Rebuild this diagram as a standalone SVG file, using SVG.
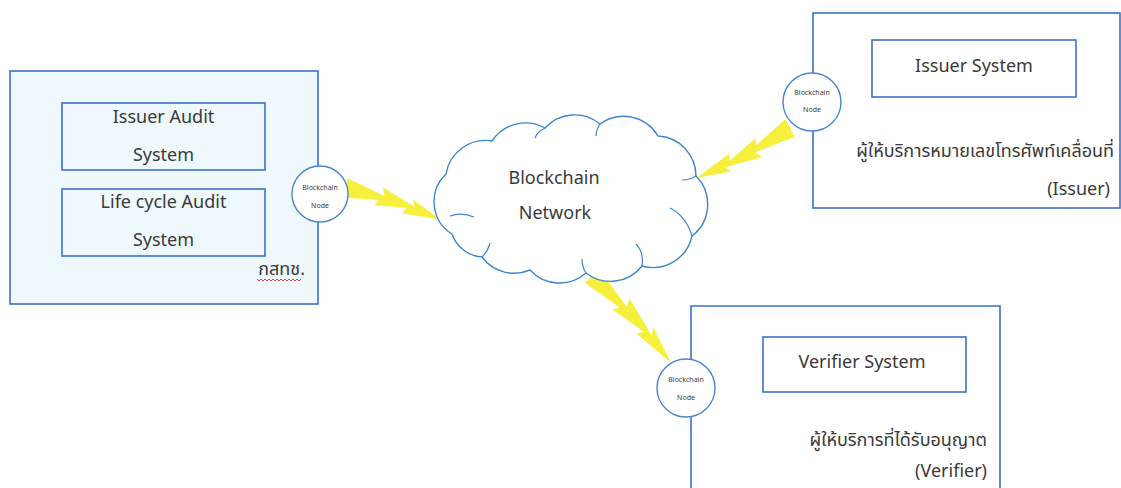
<svg xmlns="http://www.w3.org/2000/svg" xmlns:xlink="http://www.w3.org/1999/xlink" width="1121" height="488" viewBox="0 0 1121 488">
<style>
  .frame{fill:#ffffff;stroke:#3a72c8;stroke-width:1.6}
  .inner{fill:none;stroke:#3a72c8;stroke-width:1.6}
  .node{fill:#ffffff;stroke:#4a86cf;stroke-width:1.4}
  .t{font-family:"Noto Sans","Liberation Sans",sans-serif;fill:#3a3a3a;font-size:18px}
  .th{font-family:"Noto Sans Thai","Noto Sans","Liberation Sans",sans-serif;fill:#3a3a3a;font-size:18px}
  .n{font-family:"Noto Sans","Liberation Sans",sans-serif;fill:#3a3a3a;font-size:7px;text-anchor:middle}
  .bolt{fill:#f6ef3c}
</style>
<defs>
  <polygon id="bolt" class="bolt" points="0,-9 40,-4 36,-11 72,-3 68,-9 100,1 62,6 65,0 33,7 36,1 0,9"/>
</defs>
<rect width="1121" height="488" fill="#ffffff"/>

<g id="connectors">
  <use xlink:href="#bolt" transform="translate(345,188) rotate(17.7) scale(1.0,1.1)"/>
  <use xlink:href="#bolt" transform="translate(790,128) rotate(151.3) scale(1.06,1.1)"/>
  <use xlink:href="#bolt" transform="translate(592,276) rotate(47.1) scale(1.17,1.1)"/>
</g>

<g id="regulator">
  <rect x="10" y="71" width="308" height="233" fill="#eef8fd" stroke="#3a72c8" stroke-width="1.6"/>
  <g id="issuer-audit">
    <rect class="inner" x="62" y="103" width="203" height="67"/>
    <text class="t" x="163.5" y="123" text-anchor="middle">Issuer Audit</text>
    <text class="t" x="163.5" y="161" text-anchor="middle">System</text>
  </g>
  <g id="lifecycle-audit">
    <rect class="inner" x="62" y="189" width="203" height="67"/>
    <text class="t" x="163.5" y="208" text-anchor="middle">Life cycle Audit</text>
    <text class="t" x="163.5" y="246" text-anchor="middle">System</text>
  </g>
  <text class="th" x="305" y="275" text-anchor="end">กสทช.</text>
  <path d="M257,279 l2,2 2,-2 2,2 2,-2 2,2 2,-2 2,2 2,-2 2,2 2,-2 2,2 2,-2 2,2 2,-2 2,2 2,-2 2,2 2,-2 2,2 2,-2 2,2 2,-2" fill="none" stroke="#d23030" stroke-width="0.9"/>
</g>

<g id="node-left">
  <circle class="node" cx="320" cy="194" r="28"/>
  <text class="n" x="320" y="190">Blockchain</text>
  <text class="n" x="320" y="208">Node</text>
</g>

<g id="network">
  <path d="M452,234 A38,38 0 0 1 446,174 A40,40 0 0 1 492,141 A40,40 0 0 1 545,128 A40,40 0 0 1 600,124 A40,40 0 0 1 658,136 A40,40 0 0 1 696,176 A40,40 0 0 1 692,236 A40,40 0 0 1 642,266 A40,40 0 0 1 586,273 A40,40 0 0 1 530,270 A40,40 0 0 1 482,257 A34,34 0 0 1 452,234 Z" fill="#ffffff" stroke="#3a86cf" stroke-width="1.4"/>
  <path d="M450,216 q12,-4 24,1 M482,257 q6,-6 8,-14 M586,273 q-4,-6 -4,-14 M642,266 q2,-14 -6,-22 M692,236 q-6,-20 -22,-28 M696,176 q-6,4 -14,4 M600,124 q-4,6 -4,12 M545,128 q-8,4 -10,10" fill="none" stroke="#3a86cf" stroke-width="1.2"/>
  <text class="t" x="554" y="184" text-anchor="middle">Blockchain</text>
  <text class="t" x="555" y="219" text-anchor="middle">Network</text>
</g>

<g id="issuer">
  <rect class="frame" x="813" y="13" width="307" height="195"/>
  <g id="issuer-system">
    <rect class="inner" x="872" y="40" width="204" height="57"/>
    <text class="t" x="974" y="72" text-anchor="middle">Issuer System</text>
  </g>
  <text class="th" x="1114" y="157" text-anchor="end">ผู้ให้บริการหมายเลขโทรศัพท์เคลื่อนที่</text>
  <text class="t" x="1110" y="195" text-anchor="end">(Issuer)</text>
</g>

<g id="node-issuer">
  <circle class="node" cx="812" cy="102" r="29"/>
  <text class="n" x="812" y="95">Blockchain</text>
  <text class="n" x="812" y="112">Node</text>
</g>

<g id="verifier">
  <path class="frame" d="M691,490 V306 H1000 V490"/>
  <g id="verifier-system">
    <rect class="inner" x="763" y="337" width="203" height="55"/>
    <text class="t" x="862" y="368" text-anchor="middle">Verifier System</text>
  </g>
  <text class="th" x="987" y="446" text-anchor="end">ผู้ให้บริการที่ได้รับอนุญาต</text>
  <text class="t" x="987" y="477" text-anchor="end">(Verifier)</text>
</g>

<g id="node-verifier">
  <circle class="node" cx="686" cy="388" r="29"/>
  <text class="n" x="686" y="382">Blockchain</text>
  <text class="n" x="686" y="400">Node</text>
</g>
</svg>
